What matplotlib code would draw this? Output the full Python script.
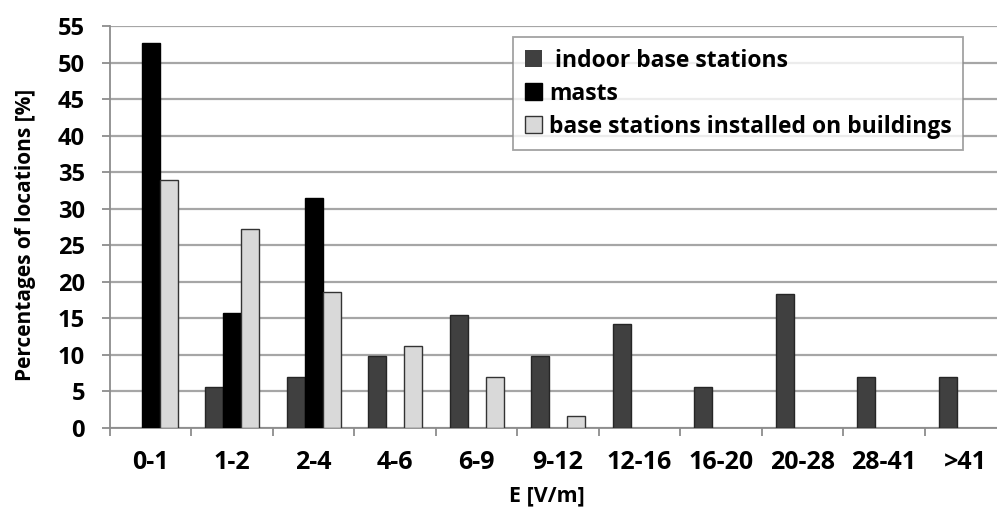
import numpy as np
import matplotlib
matplotlib.use('Agg')
import matplotlib.pyplot as plt

categories = ['0-1', '1-2', '2-4', '4-6', '6-9', '9-12', '12-16', '16-20', '20-28', '28-41', '>41']
indoor = [0, 5.6, 6.9, 9.8, 15.4, 9.8, 14.2, 5.6, 18.3, 6.9, 6.9]
masts = [52.7, 15.7, 31.5, 0, 0, 0, 0, 0, 0, 0, 0]
buildings = [33.9, 27.2, 18.6, 11.2, 7.0, 1.6, 0, 0, 0, 0, 0]
series_names = [' indoor base stations', 'masts', 'base stations installed on buildings']

plt.rcParams['font.family'] = ['Open Sans', 'DejaVu Sans']
plt.rcParams['font.weight'] = 'bold'

fig = plt.figure(figsize=(9.97, 5.14), dpi=100)
ax = fig.add_axes([0.1103, 0.168, 0.899, 0.781])

x = np.arange(len(categories))
w = 0.22
def lw(vals):
    # no outline for empty bars
    return [1.0 if v > 0 else 0 for v in vals]

ax.bar(x - w, indoor, w, color='#404040', edgecolor='#262626', linewidth=lw(indoor), label=series_names[0], zorder=3)
ax.bar(x, masts, w, color='black', edgecolor='black', linewidth=lw(masts), label=series_names[1], zorder=3)
ax.bar(x + w, buildings, w, color='#d9d9d9', edgecolor='#333333', linewidth=lw(buildings), label=series_names[2], zorder=3)

ax.set_xlim(-0.5, len(categories) - 0.5)
ax.set_ylim(0, 55)
ax.set_yticks(np.arange(0, 56, 5))
ax.yaxis.grid(True, color='#a6a6a6', linewidth=1.6, zorder=0)
ax.set_axisbelow(True)

ax.set_xticks(x)
ax.set_xticklabels(categories)
ax.set_xticks(np.arange(-0.5, len(categories), 1), minor=True)
ax.tick_params(axis='x', which='major', length=0, pad=16, labelsize=18)
ax.tick_params(axis='x', which='minor', length=6, width=1.3, color='#8c8c8c')
ax.tick_params(axis='y', length=6, width=1.3, color='#8c8c8c', labelsize=17, pad=12)
for t in ax.get_yticklabels() + ax.get_xticklabels():
    t.set_fontweight('bold')

for s in ['top', 'right']:
    ax.spines[s].set_visible(False)
for s in ['left', 'bottom']:
    ax.spines[s].set_color('#8c8c8c')
    ax.spines[s].set_linewidth(1.3)

ax.set_ylabel('Percentages of locations [%]', fontsize=15, fontweight='bold')
ax.yaxis.set_label_coords(-0.083, 0.48)
ax.set_xlabel('E [V/m]', fontsize=15.5, fontweight='bold')
ax.xaxis.set_label_coords(0.488, -0.145)

leg = ax.legend(loc='upper left', bbox_to_anchor=(0.45, 0.973), borderaxespad=0,
                frameon=True, fancybox=False, fontsize=16.5, handlelength=0.75,
                handleheight=0.75, handletextpad=0.3, labelspacing=0.4,
                borderpad=0.5)
leg.get_frame().set_edgecolor('#8c8c8c')
leg.get_frame().set_linewidth(1.3)

fig.savefig('out.png', dpi=100)
